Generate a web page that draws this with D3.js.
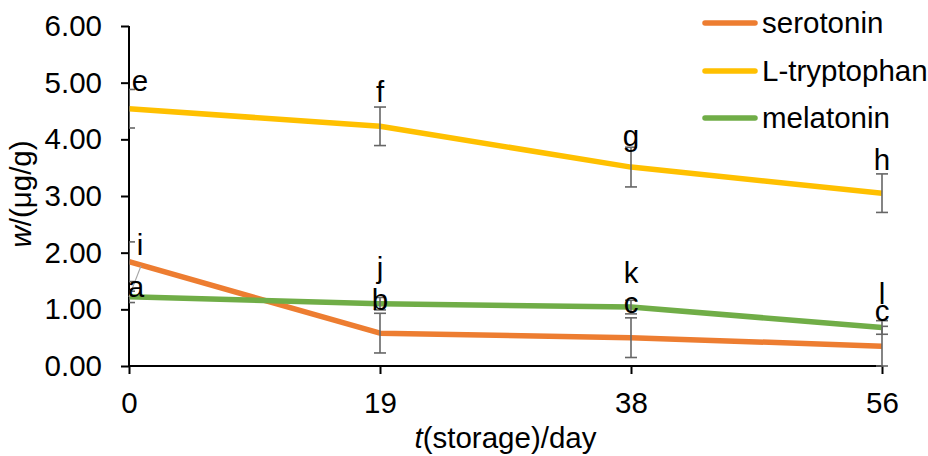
<!DOCTYPE html>
<html>
<head>
<meta charset="utf-8">
<script src="https://cdn.jsdelivr.net/npm/d3@7/dist/d3.min.js"></script>
<style>
  html, body { margin: 0; padding: 0; background: #fff; }
  svg { display: block; font-family: "Liberation Sans", Arial, sans-serif; }
</style>
</head>
<body>
<svg id="chart" width="928" height="456"></svg>
<script>
// Storage time categories (days)
const days = ["0", "19", "38", "56"];

// Mean contents, w (µg/g)
const serotonin   = [1.84, 0.58, 0.50, 0.35];
const tryptophan  = [4.54, 4.23, 3.51, 3.05];
const melatonin   = [1.22, 1.10, 1.04, 0.68];

// Error bar half-widths (µg/g)
const serotoninErr  = [0.35, 0.35, 0.35, 0.35];
const tryptophanErr = [0.34, 0.34, 0.35, 0.34];
const melatoninErr  = [0.10, 0.11, 0.12, 0.12];

// Significance letters
const serotoninLetters  = ["i", "j", "k", "l"];
const tryptophanLetters = ["e", "f", "g", "h"];
const melatoninLetters  = ["a", "b", "c", "c"];

const yTicks = [0, 1, 2, 3, 4, 5, 6];

const seriesNames = ["serotonin", "L-tryptophan", "melatonin"];

// ---- layout ----
const svg = d3.select("#chart");
const FONT = 29.5;
const plotLeft = 129, plotRight = 882, plotTop = 26, plotBottom = 366;

const x = d3.scalePoint().domain(days).range([plotLeft, plotRight]);
const y = d3.scaleLinear().domain([0, 6]).range([plotBottom, plotTop]);

const series = [
  { name: seriesNames[0], values: serotonin,  err: serotoninErr,  letters: serotoninLetters,  color: "#ED7D31",
    nudge: [[11, -7], [0, -55], [0, -55], [0, -42]] },
  { name: seriesNames[1], values: tryptophan, err: tryptophanErr, letters: tryptophanLetters, color: "#FFC000",
    nudge: [[11, -18], [0, -24], [0, -21], [0, -23]] },
  { name: seriesNames[2], values: melatonin,  err: melatoninErr,  letters: melatoninLetters,  color: "#70AD47",
    nudge: [[7, 0], [0, 6], [0, 6], [0, -6]] }
];

// clip marks at the left edge of the plot area
svg.append("defs").append("clipPath").attr("id", "plotClip")
  .append("rect").attr("x", plotLeft).attr("y", 0).attr("width", 928 - plotLeft).attr("height", plotBottom + 1);

// ---- axes ----
const yAxis = d3.axisLeft(y).tickValues(yTicks).tickFormat(d3.format(".2f"))
  .tickSize(8).tickPadding(19).tickSizeOuter(0);
const gy = svg.append("g").attr("transform", `translate(${plotLeft},0)`).call(yAxis);

const xAxis = d3.axisBottom(x).tickSize(8).tickPadding(18).tickSizeOuter(0);
const gx = svg.append("g").attr("transform", `translate(0,${plotBottom})`).call(xAxis);

[gy, gx].forEach(g => {
  g.select("path.domain").remove();
  g.selectAll(".tick line").attr("stroke", "#000").attr("stroke-width", 2);
  g.selectAll(".tick text").attr("fill", "#000").style("font-size", FONT + "px")
    .style("font-family", "'Liberation Sans', Arial, sans-serif");
});

// axis lines
svg.append("line")
  .attr("x1", plotLeft).attr("x2", plotLeft).attr("y1", y(6)).attr("y2", y(0) + 1)
  .attr("stroke", "#000").attr("stroke-width", 2);
svg.append("line")
  .attr("x1", plotLeft - 1).attr("x2", plotRight + 1).attr("y1", y(0)).attr("y2", y(0))
  .attr("stroke", "#000").attr("stroke-width", 2);

// ---- series: lines, error bars ----
const plot = svg.append("g").attr("clip-path", "url(#plotClip)");
const line = d3.line().x((d, i) => x(days[i])).y(d => y(d));

series.forEach(s => {
  const g = plot.append("g");
  g.append("path")
    .attr("d", line(s.values))
    .attr("fill", "none")
    .attr("stroke", s.color)
    .attr("stroke-width", 5.5)
    .attr("stroke-linejoin", "round");

  const eb = g.selectAll("g.eb").data(s.values).join("g").attr("class", "eb")
    .attr("stroke", "#666").attr("stroke-width", 1.6);
  eb.append("line")
    .attr("x1", (d, i) => x(days[i])).attr("x2", (d, i) => x(days[i]))
    .attr("y1", (d, i) => y(d - s.err[i])).attr("y2", (d, i) => y(d + s.err[i]));
  [-1, 1].forEach(sign => {
    eb.append("line")
      .attr("x1", (d, i) => x(days[i]) - 6).attr("x2", (d, i) => x(days[i]) + 6)
      .attr("y1", (d, i) => y(d + sign * s.err[i])).attr("y2", (d, i) => y(d + sign * s.err[i]));
  });
});

// leader line from the day-0 label back to its point
svg.append("line")
  .attr("x1", x(days[0])).attr("y1", y(melatonin[0]))
  .attr("x2", x(days[0]) + 12).attr("y2", y(melatonin[0]) - 31)
  .attr("stroke", "#a6a6a6").attr("stroke-width", 1.2);

// ---- significance letters ----
series.forEach(s => {
  svg.append("g").selectAll("text").data(s.values).join("text")
    .attr("x", (d, i) => x(days[i]) + s.nudge[i][0])
    .attr("y", (d, i) => y(d) + s.nudge[i][1])
    .attr("text-anchor", "middle")
    .style("font-size", FONT + "px")
    .attr("fill", "#000")
    .text((d, i) => s.letters[i]);
});

// ---- axis titles ----
const xt = svg.append("text")
  .attr("x", (plotLeft + plotRight) / 2).attr("y", 448)
  .attr("text-anchor", "middle").style("font-size", FONT + "px");
xt.append("tspan").style("font-style", "italic").text("t");
xt.append("tspan").text("(storage)/day");

const yt = svg.append("text")
  .attr("transform", "translate(31,194) rotate(-90)")
  .attr("text-anchor", "middle").style("font-size", FONT + "px");
yt.append("tspan").style("font-style", "italic").text("w");
yt.append("tspan").text("/(μg/g)");

// ---- legend ----
const legend = svg.append("g");
const legendRowY = [23, 71, 118];
series.forEach((s, i) => {
  const r = legend.append("g").attr("transform", `translate(0,${legendRowY[i]})`);
  r.append("line").attr("x1", 705).attr("x2", 755).attr("y1", 0).attr("y2", 0)
    .attr("stroke", s.color).attr("stroke-width", 5.5).attr("stroke-linecap", "round");
  r.append("text").attr("x", 762).attr("y", 0).attr("dy", "0.35em")
    .style("font-size", FONT + "px").text(s.name);
});
</script>
</body>
</html>
